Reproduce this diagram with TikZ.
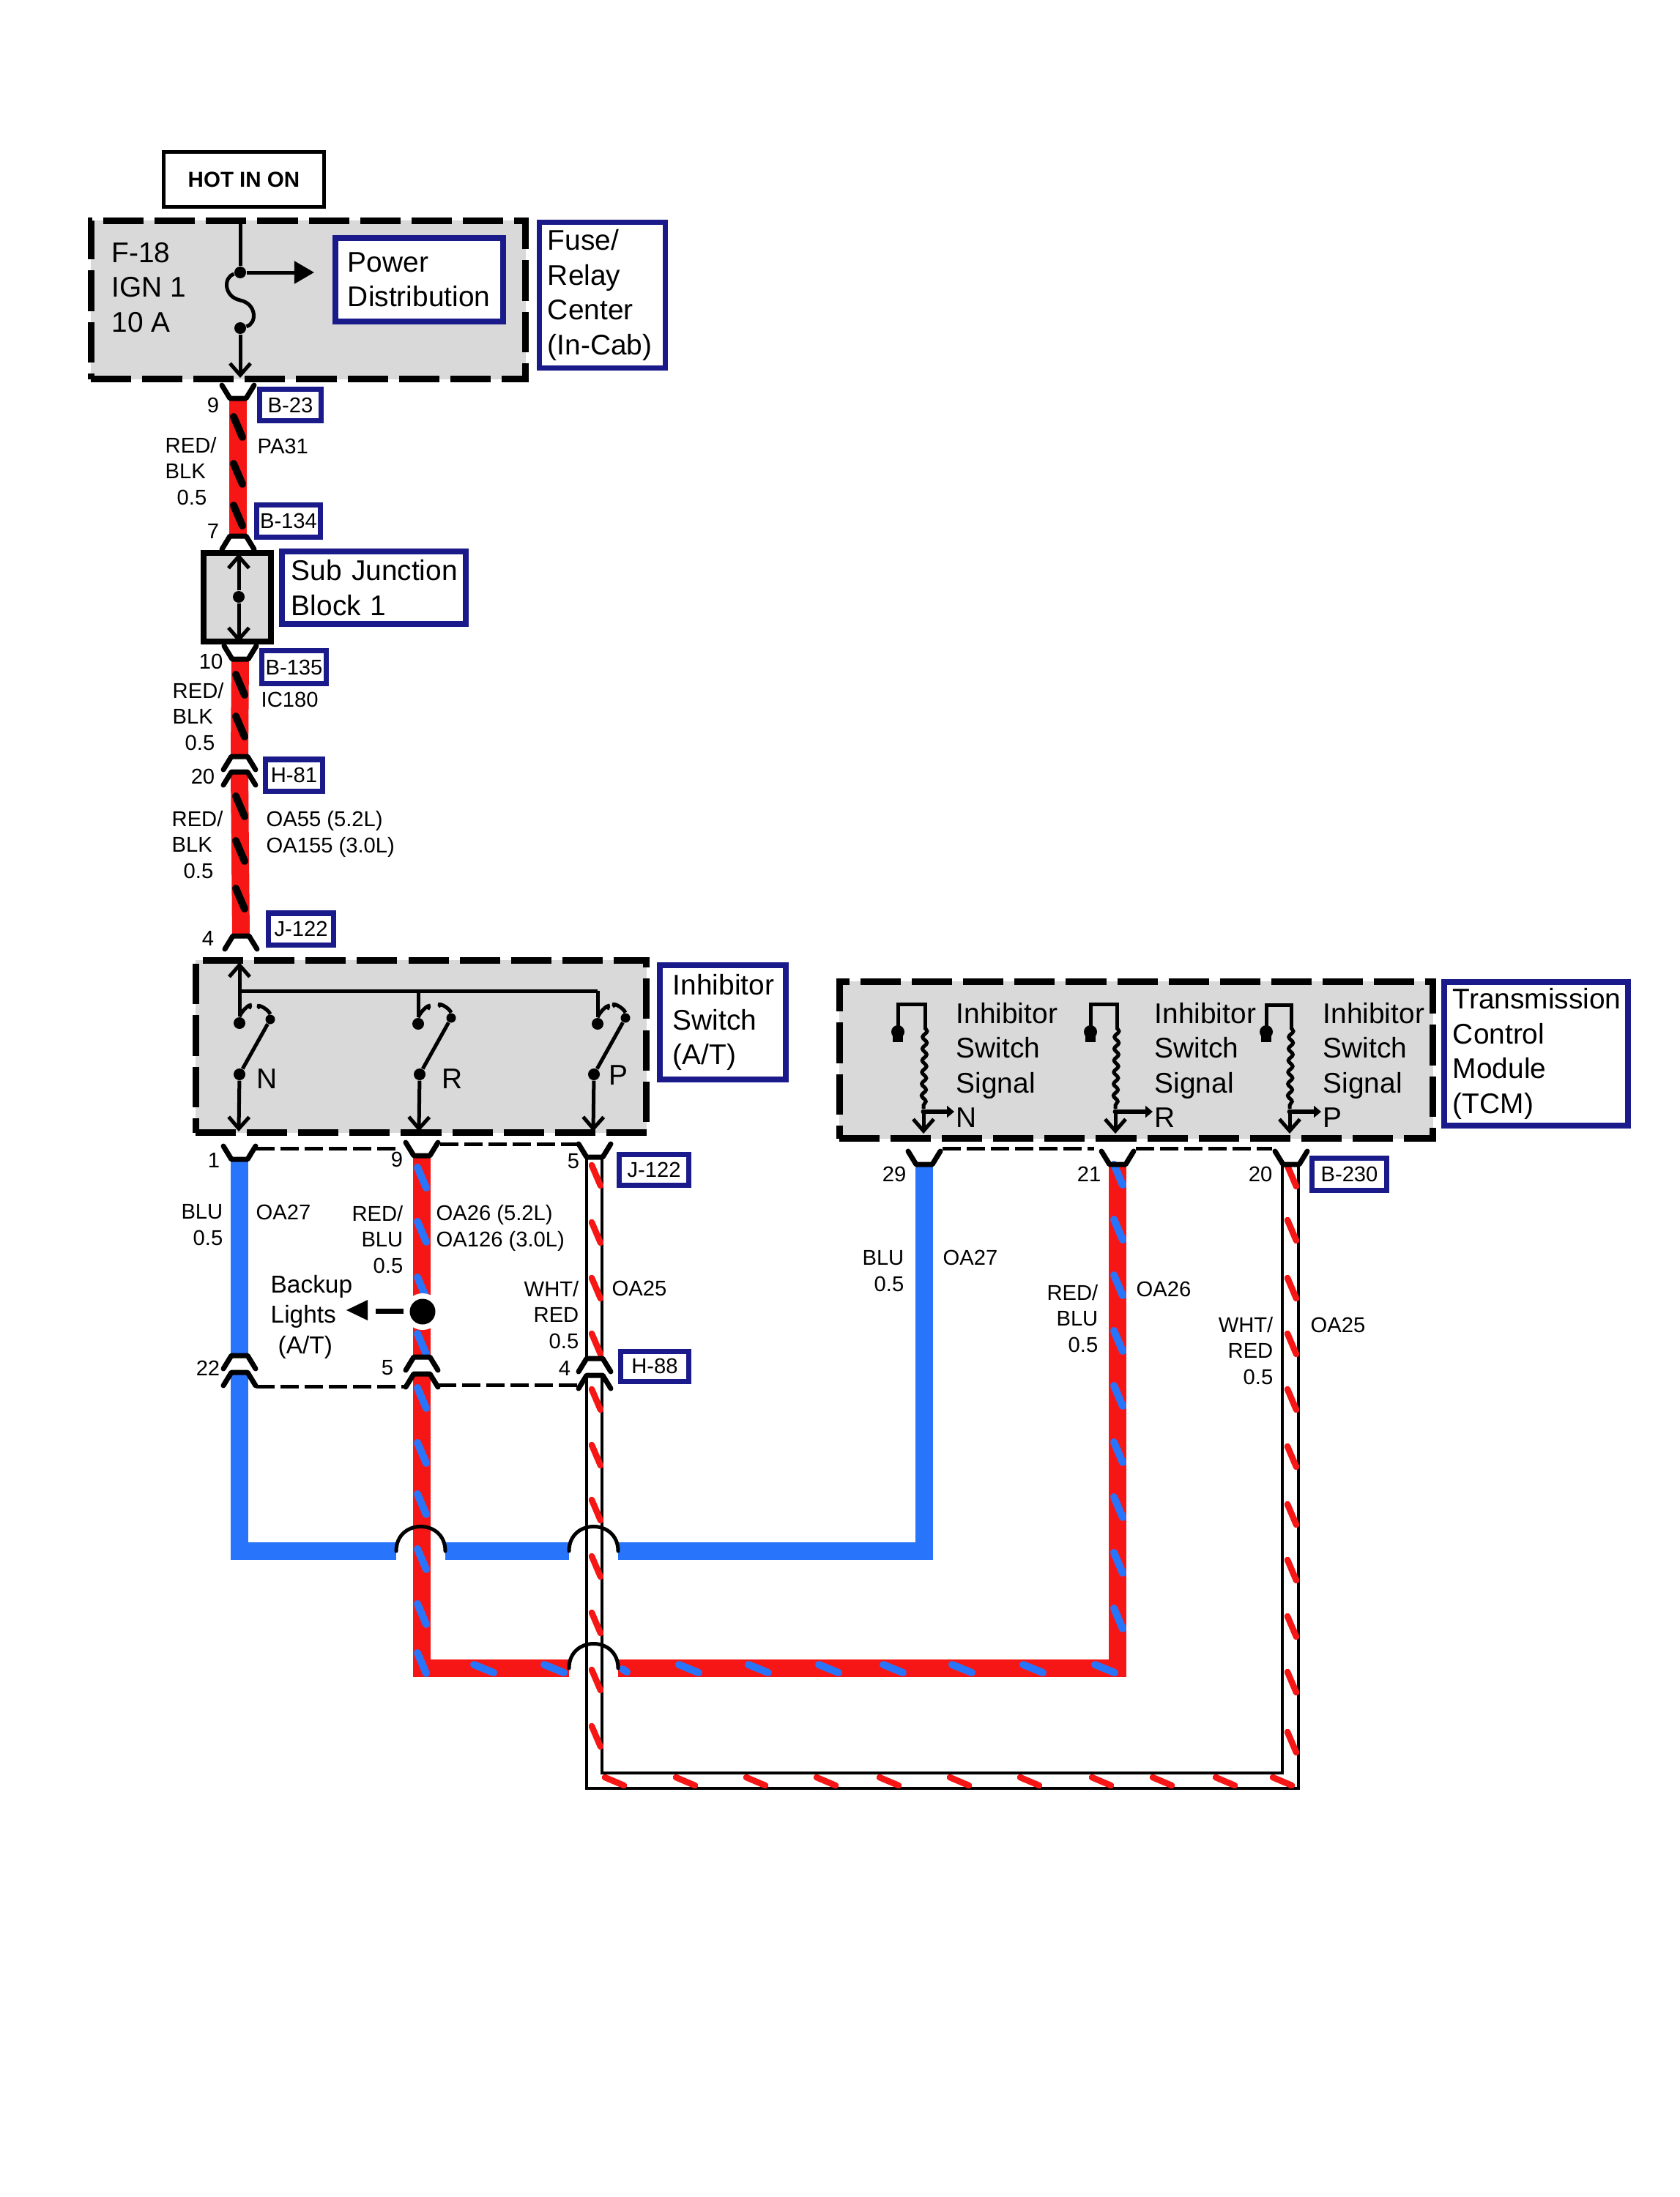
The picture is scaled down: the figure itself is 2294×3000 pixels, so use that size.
\documentclass[tikz,border=0pt]{standalone}
\usepackage{fontspec}
\setmainfont{Liberation Sans}
\usetikzlibrary{arrows.meta,decorations.pathmorphing}
\definecolor{wirered}{RGB}{247,22,22}
\definecolor{wireblue}{RGB}{40,117,252}
\definecolor{navybox}{RGB}{26,26,138}
\definecolor{boxgrey}{RGB}{217,217,217}
\tikzset{
  bigtext/.style={font=\fontsize{11.05}{13.5}\selectfont,inner sep=0,align=left},
  smalltext/.style={font=\fontsize{8.3}{10}\selectfont,inner sep=0},
  backuptext/.style={font=\fontsize{9.5}{11.8}\selectfont,inner sep=0,align=left},
  greybox/.style={draw=black,fill=boxgrey,line width=.09cm,dash pattern=on .55cm off .15cm},
  namebox/.style={bigtext,draw=navybox,fill=white,line width=.075cm},
  tagbox/.style={smalltext,draw=navybox,fill=white,line width=.07cm,align=center},
  inner/.style={line width=.05cm},
  downhead/.style={inner,-{Straight Barb[length=.16cm,width=.28cm]}},
  arrowhead/.style={-{Triangle[length=.27cm,width=.3cm]}},
  pin/.style={line width=.07cm,line cap=round,line join=round},
  dot/.style={circle,fill=black,inner sep=0,minimum size=.16cm},
  redwire/.style={draw=wirered,line width=.24cm,line join=miter},
  bluewire/.style={draw=wireblue,line width=.24cm,line join=miter},
  thinwire/.style={line width=.045cm,line join=miter},
  stripe/.style={line width=.1cm,line cap=round},
  thinstripe/.style={line width=.085cm,line cap=round,draw=wirered},
  pindash/.style={line width=.05cm,dash pattern=on .25cm off .08cm},
  hop/.style={line width=.05cm,line cap=round}
}
\begin{document}
\begin{tikzpicture}[x=.01cm,y=-.01cm]
\useasboundingbox (0,0) rectangle (2294,3000);

% grey boxes
\node[greybox,minimum width=5.93cm,minimum height=2.16cm] (fusecenter) at (421,409.5) {};
\node[greybox,minimum width=6.15cm,minimum height=2.35cm] (inhibitor) at (575,1429) {};
\node[greybox,minimum width=8.1cm,minimum height=2.14cm] (tcm) at (1551.5,1447.5) {};
\node[draw,fill=boxgrey,line width=.08cm,minimum width=.91cm,minimum height=1.2cm] (subblock) at (324,815.5) {};

% pins, Y shape
\foreach \n/\x/\y in {pb23/325/544, pb135/328/900, pj1/327/1583, pj9/576/1578, pj5/812/1580,
                      pb29/1262/1590, pb21/1526/1590, pb20/1763/1590}
    \coordinate (\n) at (\x,\y);
% pins, upside down
\foreach \n/\x/\y in {pb134/325/732, ph20a/327/1033, ph20b/327/1054, pj4/329/1278,
                      ph22a/327/1851, ph22b/327/1874, ph5a/576/1853, ph5b/576/1876,
                      ph4a/812/1855, ph4b/812/1878}
    \coordinate (\n) at (\x,\y);

% corners and hops
\coordinate (bluel) at (327,2118);
\coordinate (bluer) at (1262,2118);
\coordinate (redl) at (576,2278);
\coordinate (redr) at (1526,2278);
\coordinate (hopa) at (541,2118);
\coordinate (hopb) at (608,2118);
\coordinate (hopc) at (777,2118);
\coordinate (hopd) at (844,2118);
\coordinate (hope) at (777,2278);
\coordinate (hopf) at (844,2278);

% wires
\draw[redwire] (pb23) -- (pb134);
\draw[redwire] (pb135) -- (ph20a);
\draw[redwire] (ph20b) -- (pj4);
\draw[bluewire] (pj1) -- (ph22a);
\draw[bluewire] (ph22b) -- (bluel) -- (hopa);
\draw[bluewire] (hopb) -- (hopc);
\draw[bluewire] (hopd) -- (bluer) -- (pb29);
\draw[redwire] (pj9) -- (ph5a);
\draw[redwire] (ph5b) -- (redl) -- (hope);
\draw[redwire] (hopf) -- (redr) -- (pb21);
\draw[thinwire] (801,1580) -- (801,1855) (822,1580) -- (822,1855);
\draw[thinwire] (801,1878) -- (801,2442) -- (1773,2442) -- (1773,1590);
\draw[thinwire] (822,1878) -- (822,2421) -- (1751,2421) -- (1751,1590);

% tracer stripes
\foreach \y in {569,633,690}
    \draw[stripe] (319,\y) -- ++(12,28);
\foreach \y in {921,978,1087,1148,1213}
    \draw[stripe] (322,\y) -- ++(12,28);
\foreach \y in {1594,1668,1744,1821,1895,1970,2040,2115,2190,2257}
    \draw[stripe,wireblue] (570,\y) -- ++(12,28);
\foreach \y in {1590,1665,1741,1817,1892,1969,2044,2120,2196}
    \draw[stripe,wireblue] (1521,\y) -- ++(12,28);
\foreach \x in {647,743,927,1022,1118,1206,1300,1397,1495}
    \draw[stripe,wireblue] (\x,2273) -- ++(27,11);
\draw[stripe,wireblue] (850,2279) -- (856,2283);
\foreach \y in {1591,1669,1745,1821,1897,1973,2048,2125,2202,2280,2357}
    \draw[thinstripe] (808,\y) -- ++(12,28);
\foreach \y in {1592,1666,1745,1821,1897,1975,2054,2130,2207,2283,2365}
    \draw[thinstripe] (1758,\y) -- ++(12,28);
\foreach \x in {826,923,1019,1115,1201,1297,1393,1491,1574,1660,1738}
    \draw[thinstripe] (\x,2427) -- ++(26,11);

% hops
\draw[hop] (hopa) .. controls +(0,-44.7) and +(0,-44.7) .. (hopb);
\draw[hop] (hopc) .. controls +(0,-44.7) and +(0,-44.7) .. (hopd);
\draw[hop] (hope) .. controls +(0,-44.7) and +(0,-44.7) .. (hopf);

% pins on top of the wires
\foreach \n in {pb23,pb135,pj1,pj9,pj5,pb29,pb21,pb20}
    \draw[pin] (\n) ++(-22,-18) -- ++(11,18) -- ++(22,0) -- ++(11,-18);
\foreach \n in {pb134,ph20a,ph20b,pj4,ph22a,ph22b,ph5a,ph5b,ph4a,ph4b}
    \draw[pin] (\n) ++(-22,18) -- ++(11,-18) -- ++(22,0) -- ++(11,18);
\draw[pindash] (350,1568) -- (542,1568);
\draw[pindash] (601,1562) -- (788,1562);
\draw[pindash] (350,1893) -- (554,1893);
\draw[pindash] (598,1891) -- (790,1891);
\draw[pindash] (1287,1568) -- (1494,1568);
\draw[pindash] (1551,1568) -- (1737,1568);

% fuse
\node[dot] (fusetop) at (328,372) {};
\node[dot] (fusebot) at (328,448) {};
\coordinate (hotin) at (328,302);
\coordinate (fuseout) at (328,516);
\coordinate (powerarrow) at (429,372);
\draw[inner] (hotin) -- (fusetop);
\draw[inner] (fusetop) .. controls (305,378) and (305,405) .. (328,410) .. controls (351,415) and (351,442) .. (fusebot);
\draw[downhead] (fusebot) -- (fuseout);
\draw[inner,arrowhead] (fusetop) -- (powerarrow);

% sub junction block
\node[dot] (subdot) at (326,815) {};
\coordinate (subtop) at (326,756);
\coordinate (subbot) at (326,877);
\draw[downhead] (subdot) -- (subtop);
\draw[downhead] (subdot) -- (subbot);

% inhibitor switch
\coordinate (bustop) at (327,1314);
\coordinate (busr) at (816,1353);
\coordinate (busm) at (571,1353);
\coordinate (busl) at (327,1353);
\foreach \n/\ux/\uy/\rx/\ry/\lx/\ax/\tx/\ty in {N/327/1397/369/1392/327/326/350/1486,
                                                R/571/1398/616/1390/573/572/603/1486,
                                                P/816/1398/854/1390/811/810/831/1481}{
    \node[dot] (sw\n up) at (\ux,\uy) {};
    \node[dot,minimum size=.13cm] (sw\n right) at (\rx,\ry) {};
    \node[dot] (sw\n low) at (\lx,1467) {};
    \coordinate (sw\n out) at (\ax,1545);
    \draw[inner] (sw\n low) -- (sw\n right);
    \draw[inner] (sw\n up.north) .. controls +(3,-9) and +(7,-12) .. +(13,-11);
    \draw[inner] (sw\n right.north) .. controls +(-3,-8) and +(-8,-8) .. +(-14,-8);
    \draw[downhead] (sw\n low) -- (sw\n out);
    \node[bigtext,anchor=base west] (lab\n) at (\tx,\ty) {\n};
}
\draw[downhead] (swNup) -- (bustop);
\draw[inner] (busl) -- (busr);
\draw[inner] (busm) -- (swRup);
\draw[inner] (busr) -- (swPup);

% tcm signals
\foreach \n/\gx/\wx/\tx/\topy in {N/1226/1263/1305/1371, R/1489/1525/1576/1371, P/1729/1763/1806/1372}{
    \coordinate (sig\n a) at (\gx,1400);
    \coordinate (sig\n b) at (\gx,\topy);
    \coordinate (sig\n c) at (\wx,\topy);
    \coordinate (sig\n d) at (\wx,1403);
    \node[dot,minimum size=.07cm] (sig\n e) at (\wx-2,1518) {};
    \coordinate (sig\n f) at (\wx-2,1548);
    \coordinate (sig\n g) at (\tx-2,1518);
    \draw[inner,line cap=rect] (sig\n a) -- (sig\n b) -- (sig\n c) -- (sig\n d);
    \draw[inner,decorate,decoration={snake,amplitude=.03cm,segment length=.16cm}] (sig\n d) -- (sig\n e);
    \draw[downhead] (sig\n e.center) -- (sig\n f);
    \draw[line width=.06cm,-{Triangle[length=.1cm,width=.16cm]}] (sig\n e.center) -- (sig\n g);
    \fill (\gx,1409) circle[radius=.09cm];
    \fill (\gx-7,1409) rectangle (\gx+7,1423);
    \node[bigtext,anchor=base west] (sigtext\n) at (\tx,1492) {Inhibitor\\Switch\\Signal};
    \node[bigtext,anchor=base west] (siglab\n) at (\tx,1539) {\n};
}

% splice to the backup lights
\node[circle,fill=white,inner sep=0,minimum size=.5cm] (splicehalo) at (577,1791) {};
\node[circle,fill=black,inner sep=0,minimum size=.35cm] (splice) at (577,1791) {};
\coordinate (backupa) at (551,1790);
\coordinate (backupb) at (513,1790);
\draw[line width=.07cm] (backupa) -- (backupb);
\fill (473,1789) -- (502,1775) -- (502,1803) -- cycle;
\node[backuptext,anchor=base west] (backup) at (369,1848) {Backup\\Lights\\\hspace*{.1cm}(A/T)};

% top box
\node[draw,line width=.05cm,minimum width=2.18cm,minimum height=.74cm,font=\fontsize{8.4}{10}\selectfont\bfseries] (hot) at (333,245) {HOT IN ON\hspace{.28cm}};
\node[bigtext,anchor=base west] (fusetext) at (152,453) {F-18\\IGN 1\\10 A};

% blue boxes
\node[namebox,text width=1.49cm,inner xsep=.115cm,minimum height=1.99cm] (fuserelay) at (822.5,403) {Fuse/\\Relay\\Center\\(In-Cab)};
\node[namebox,text width=1.95cm,inner xsep=.17cm,minimum height=1.14cm] (powerdist) at (572.5,382) {Power\\Distribution};
\node[namebox,text width=2.25cm,inner xsep=.13cm,minimum height=.99cm] (subjunction) at (510.5,802.5) {\mbox{Sub Junction}\\Block 1};
\node[namebox,text width=1.36cm,inner xsep=.18cm,minimum height=1.56cm] (inhibname) at (987,1396) {Inhibitor\\Switch\\(A/T)};
\node[namebox,text width=2.27cm,inner xsep=.12cm,minimum height=1.96cm] (tcmname) at (2097.5,1439) {Transmission\\Control\\Module\\(TCM)};

% connector tags
\foreach \n/\x/\y/\w/\h/\t in {tb23/396.5/553/.83cm/.42cm/B-23, tb134/394/711.5/.86cm/.43cm/B-134,
                               tb135/401.5/911/.87cm/.44cm/B-135, th81/401.5/1058.5/.77cm/.43cm/H-81,
                               tj122a/411/1268.5/.88cm/.43cm/J-122, tj122b/893/1597/.94cm/.42cm/J-122,
                               th88/894/1865.5/.92cm/.41cm/H-88, tb230/1842.5/1603/1.01cm/.44cm/B-230}
    \node[tagbox,minimum width=\w,minimum height=\h] (\n) at (\x,\y) {\t};

% pin numbers
\foreach \n/\x/\y/\t in {n1/291/553/9, n2/291/725/7, n3/288/903/10, n4/277/1060/20, n5/284/1281/4,
                         n6/292/1584/1, n7/542/1583/9, n8/783/1586/5, n9/284/1868/22, n10/529/1868/5,
                         n11/771/1868/4, n12/1221/1603/29, n13/1487/1603/21, n14/1721/1603/20}
    \node[smalltext] (\n) at (\x,\y) {\t};

% wire labels
\node[smalltext,anchor=base west,align=left] (w1) at (225,689) {RED/\\BLK\\\hspace*{.16cm}0.5};
\node[smalltext,anchor=base west] (w2) at (351,619) {PA31};
\node[smalltext,anchor=base west,align=left] (w3) at (235,1024) {RED/\\BLK\\\hspace*{.17cm}0.5};
\node[smalltext,anchor=base west] (w4) at (356,965) {IC180};
\node[smalltext,anchor=base west,align=left] (w5) at (234,1199) {RED/\\BLK\\\hspace*{.16cm}0.5};
\node[smalltext,anchor=base west,align=left] (w6) at (363,1164) {OA55 (5.2L)\\OA155 (3.0L)};
\node[smalltext,anchor=base east,align=right] (w7) at (305,1700) {BLU\\0.5};
\node[smalltext,anchor=base west] (w8) at (349,1665) {OA27};
\node[smalltext,anchor=base east,align=right] (w9) at (551,1738) {RED/\\BLU\\0.5};
\node[smalltext,anchor=base west,align=left] (w10) at (595,1702) {OA26 (5.2L)\\OA126 (3.0L)};
\node[smalltext,anchor=base east,align=right] (w11) at (791,1841) {WHT/\\RED\\0.5};
\node[smalltext,anchor=base west] (w12) at (835,1769) {OA25};
\node[smalltext,anchor=base east,align=right] (w13) at (1235,1763) {BLU\\0.5};
\node[smalltext,anchor=base west] (w14) at (1287,1727) {OA27};
\node[smalltext,anchor=base east,align=right] (w15) at (1500,1846) {RED/\\BLU\\0.5};
\node[smalltext,anchor=base west] (w16) at (1551,1770) {OA26};
\node[smalltext,anchor=base east,align=right] (w17) at (1739,1890) {WHT/\\RED\\0.5};
\node[smalltext,anchor=base west] (w18) at (1789,1819) {OA25};
\end{tikzpicture}
\end{document}
